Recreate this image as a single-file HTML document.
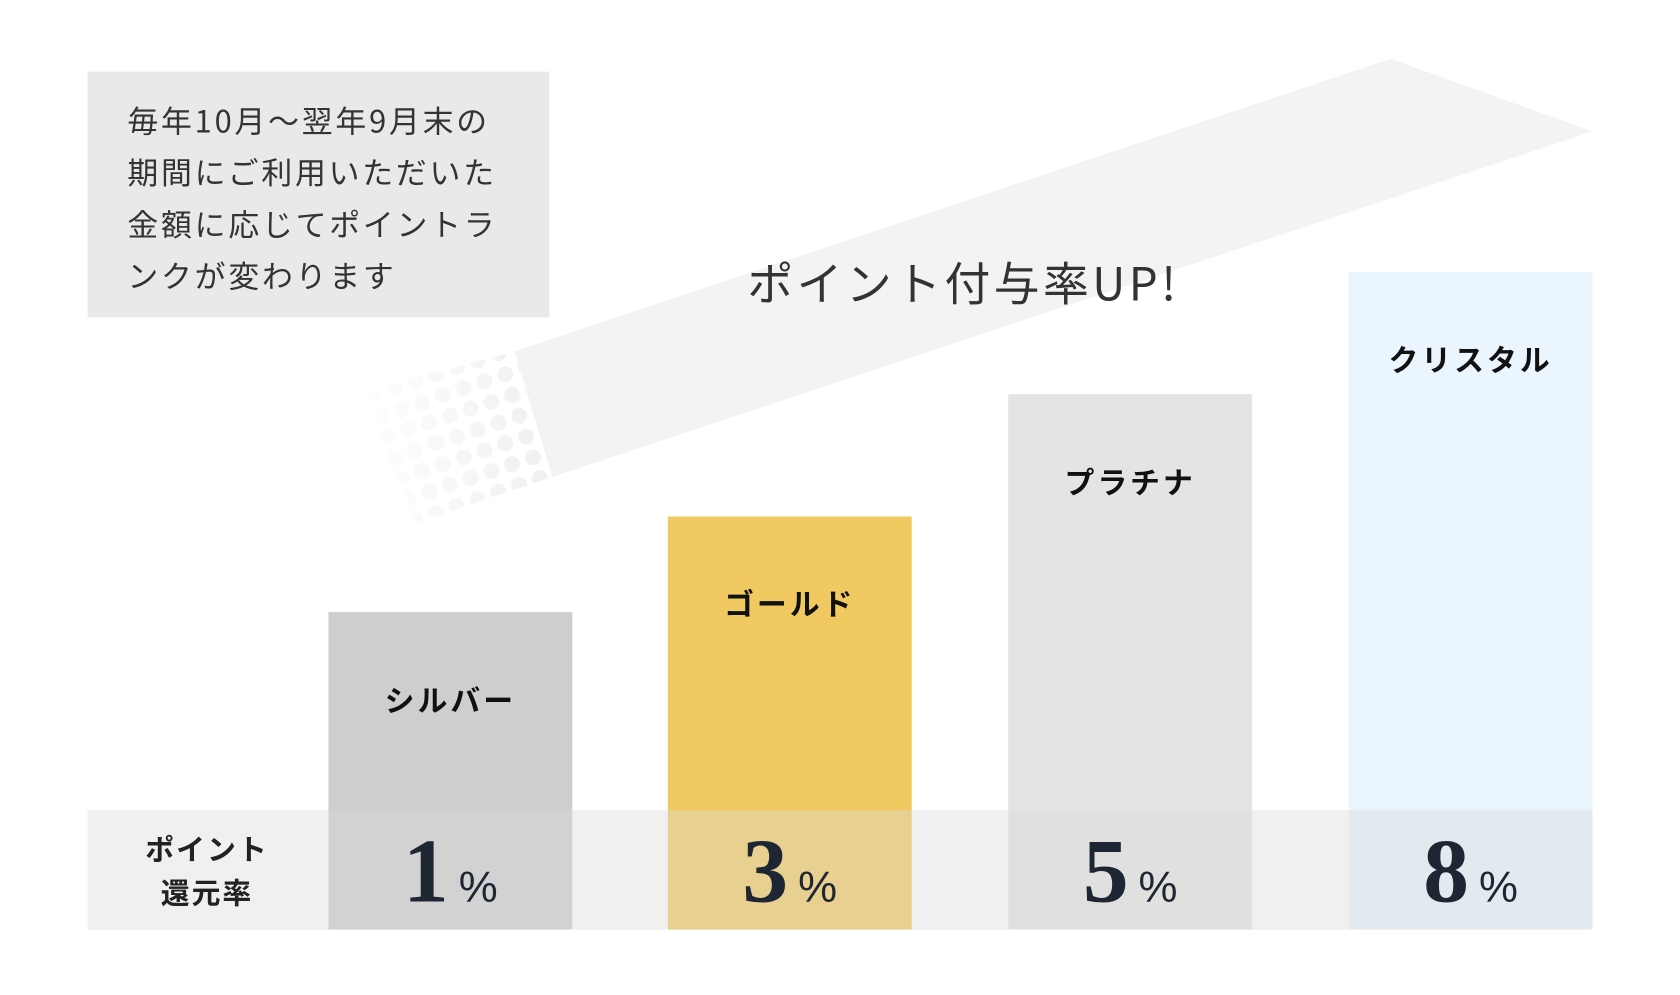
<!DOCTYPE html>
<html><head><meta charset="utf-8"><style>
html,body{margin:0;padding:0;background:#fff;}
body{width:1680px;height:994px;position:relative;overflow:hidden;font-family:"Noto Sans CJK JP","Liberation Sans",sans-serif;color:#333;}
#w{position:absolute;left:0;top:0;width:1688px;height:1000px;transform:scale(0.9953);transform-origin:0 0;}
.abs{position:absolute;}
.desc{left:88px;top:72px;width:464px;height:247px;background:#e8e9eb;}
.desc p{margin:0;position:absolute;left:40px;top:22px;font-size:31px;line-height:52px;letter-spacing:2.8px;color:#333;white-space:nowrap;}
.title{left:600px;width:736px;top:250px;text-align:center;font-size:46px;letter-spacing:3.5px;color:#333;}
.bar{position:absolute;width:245px;bottom:66px;}
.lbl{position:absolute;width:245px;text-align:center;font-weight:bold;font-size:30px;color:#111;letter-spacing:3px;}
.band{left:88px;top:814px;width:1512px;height:120px;background:rgba(218,218,218,0.4);}
.num{position:absolute;top:822px;width:245px;text-align:center;color:#1e2633;}
.num b{font-family:"Liberation Serif",serif;font-size:92px;font-weight:bold;}
.num span{font-size:44px;margin-left:10px;font-family:"Liberation Sans",sans-serif;}
.side{left:88px;width:240px;top:830px;text-align:center;font-weight:bold;font-size:29px;line-height:44px;color:#222;letter-spacing:2px;}
</style></head><body><div id="w">
<svg class="abs" style="left:0;top:0" width="1688" height="1000">
<defs>
<pattern id="dots" width="22" height="22" patternUnits="userSpaceOnUse" patternTransform="rotate(-18.4)">
<circle cx="11" cy="11" r="8" fill="#eeeff1"/></pattern>
<linearGradient id="fade" x1="355" y1="0" x2="555" y2="0" gradientUnits="userSpaceOnUse">
<stop offset="0" stop-color="#fff" stop-opacity="0"/><stop offset="1" stop-color="#fff" stop-opacity="1"/></linearGradient>
<mask id="m"><rect x="340" y="300" width="230" height="240" fill="url(#fade)"/></mask>
</defs>
<polygon points="517,353 1397,59 1600,132 555,479" fill="#f2f3f5"/>
<polygon points="517,353 555,479 420,525 360,395" fill="url(#dots)" mask="url(#m)"/>
</svg>
<div class="abs desc"><p>毎年10月～翌年9月末の<br>期間にご利用いただいた<br>金額に応じてポイントラ<br>ンクが変わります</p></div>
<div class="abs title">ポイント付与率UP!</div>
<div class="bar" style="left:330px;top:615px;background:#cecece"></div>
<div class="bar" style="left:671px;top:519px;background:#f0ca60"></div>
<div class="bar" style="left:1013px;top:396px;background:#e5e4e2"></div>
<div class="bar" style="left:1355px;top:273px;background:#eaf5fd"></div>
<div class="lbl" style="left:330px;top:680px">シルバー</div>
<div class="lbl" style="left:671px;top:583px">ゴールド</div>
<div class="lbl" style="left:1013px;top:461px">プラチナ</div>
<div class="lbl" style="left:1355px;top:338px">クリスタル</div>
<div class="abs band"></div>
<div class="abs side">ポイント<br>還元率</div>
<div class="num" style="left:330px"><b>1</b><span>%</span></div>
<div class="num" style="left:671px"><b>3</b><span>%</span></div>
<div class="num" style="left:1013px"><b>5</b><span>%</span></div>
<div class="num" style="left:1355px"><b>8</b><span>%</span></div>
</div></body></html>
